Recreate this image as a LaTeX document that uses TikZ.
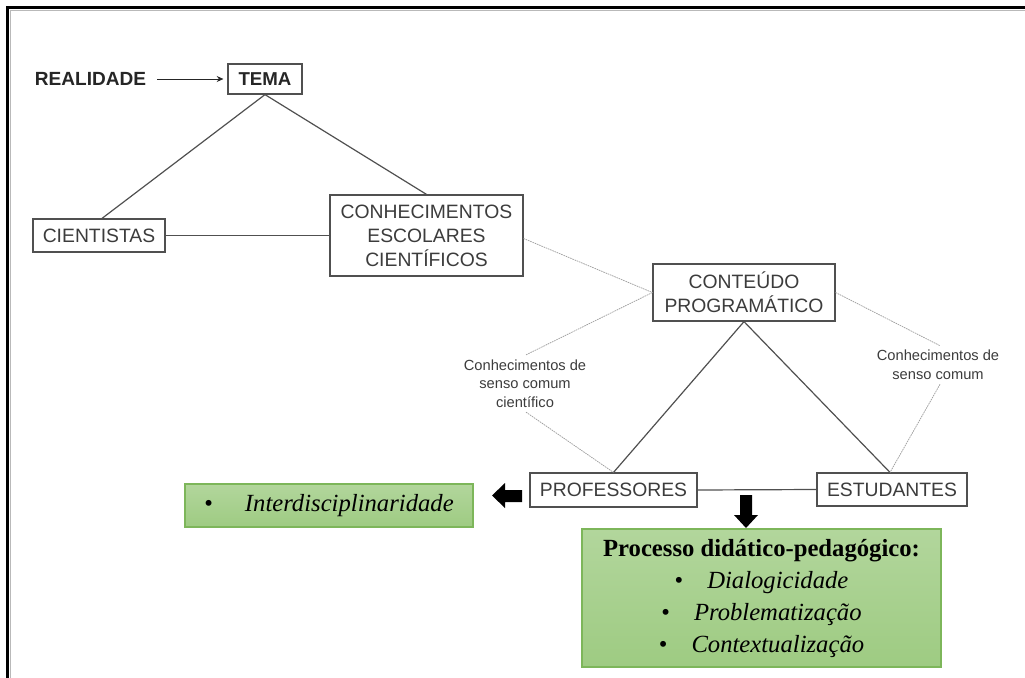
\documentclass[tikz,border=0pt]{standalone}
\usepackage{fontspec}
\setmainfont{Liberation Serif}
\setsansfont{Liberation Sans}
\usetikzlibrary{calc,arrows.meta}
\definecolor{boxtext}{HTML}{3C3C3C}
\definecolor{boxline}{HTML}{505050}
\definecolor{greenline}{HTML}{7DB65A}
\definecolor{greentop}{RGB}{178,214,156}
\definecolor{greenbot}{RGB}{158,203,130}
\begin{document}
\begin{tikzpicture}[x=0.75pt,y=-0.75pt,
  box/.style={draw=boxline, line width=0.9pt, fill=white, text=boxtext, font=\sffamily\fontsize{14.5}{18}\selectfont, align=center, inner sep=0pt},
  lab/.style={text=boxtext, font=\sffamily\fontsize{11}{14}\selectfont, align=center, inner sep=1pt},
  gbox/.style={draw=greenline, line width=1.1pt, top color=greentop, bottom color=greenbot, align=center, inner sep=0pt, text=black},
  link/.style={draw=boxline, line width=0.9pt},
  soft/.style={draw=gray!75, line width=0.55pt, dash pattern=on 1.2pt off 0.6pt},
  fat/.style={fill=black},
]
\useasboundingbox (0,0) rectangle (1025,678);
% frame
\draw[gray!55, line width=0.8pt] (10.5,678) -- (10.5,10.5) -- (1025,10.5);
\draw[black, line width=2.2pt, line join=miter] (7.5,678) -- (7.5,7.5) -- (1025,7.5);

% nodes
\node[font=\sffamily\bfseries\fontsize{14.3}{17}\selectfont, text=black!85, inner sep=0pt] (real) at (90.5,79) {REALIDADE};
\node[box, font=\sffamily\bfseries\fontsize{14}{17}\selectfont, text=black!85, minimum width=55.5pt, minimum height=22.5pt] (tema) at (265,79) {TEMA};
\node[box, minimum width=99pt, minimum height=24.75pt] (cient) at (99,235.5) {CIENTISTAS};
\node[box, minimum width=144.75pt, minimum height=60.75pt] (conh) at (426.5,235.5) {CONHECIMENTOS\\ESCOLARES\\CIENTÍFICOS};
\node[box, minimum width=136.5pt, minimum height=42.75pt] (cont) at (744,292.5) {CONTEÚDO\\PROGRAMÁTICO};
\node[lab] (lab1) at (525,383.5) {Conhecimentos de\\senso comum\\científico};
\node[lab] (lab2) at (938,365) {Conhecimentos de\\senso comum};
\node[box, minimum width=125.25pt, minimum height=25.5pt] (prof) at (613.5,490) {PROFESSORES};
\node[box, minimum width=112.5pt, minimum height=24.75pt] (estud) at (892,489.5) {ESTUDANTES};
\node[gbox, minimum width=216pt, minimum height=32.25pt, font=\fontsize{18.5}{22}\selectfont] (inter) at (329,505.5) {\textbullet\hspace{24pt}\textit{Interdisciplinaridade}};
\node[gbox, minimum width=269.25pt, minimum height=103.5pt, font=\fontsize{18.5}{24}\selectfont] (proc) at (761.5,598) {\textbf{Processo didático-pedagógico:}\\
\textbullet\hspace{18pt}\textit{Dialogicidade}\\
\textbullet\hspace{18pt}\textit{Problematização}\\
\textbullet\hspace{18pt}\textit{Contextualização}};

% connectors
\draw[-{Stealth[length=5pt,width=4.5pt]}, line width=0.7pt, black!85, shorten <=8pt, shorten >=3pt] (real.east) -- (tema.west);
\draw[link] (tema.south) -- ($(cient.north)+(3,0)$);
\draw[link] (tema.south) -- (conh.north);
\draw[link] (cient.east) -- (conh.west);
\draw[link] (cont.south) -- (prof.north);
\draw[link] (cont.south) -- ($(estud.north)+(-2,0)$);
\draw[link] (prof.east) -- (estud.west);
\draw[soft] ($(conh.east)+(0,3)$) -- (cont.west);
\draw[soft] (cont.west) -- ($(lab1.north)+(1,-3)$);
\draw[soft] ($(lab1.south)+(1,3)$) -- (prof.north);
\draw[soft] (cont.east) -- ($(lab2.north)+(2,-3)$);
\draw[soft] ($(lab2.south)+(2,3)$) -- ($(estud.north)+(-2,0)$);

% fat arrows
\fill[fat] (522,490) -- (505,490) -- (505,483) -- (492,495.5) -- (505,508) -- (505,502) -- (522,502) -- cycle;
\fill[fat] (740,495) -- (752,495) -- (752,515) -- (758,515) -- (746,528) -- (734,515) -- (740,515) -- cycle;
\end{tikzpicture}
\end{document}
